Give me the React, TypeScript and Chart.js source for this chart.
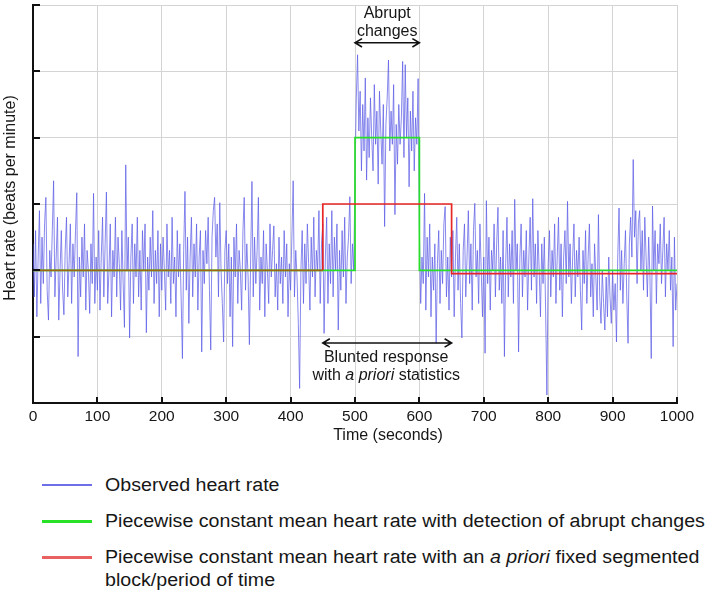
import React, { useEffect, useRef } from "react";
import { Chart, registerables } from "chart.js";

Chart.register(...registerables);

// ---------------- data ----------------
// Observed heart rate (arbitrary units on the y axis, 0..6), one sample every 2 s, 0..1000 s
const TIME_STEP_S = 2;
const OBSERVED_HR: number[] = [
  // 0-48 s
  2.4, 1.6, 2.6, 1.3, 2.2, 2.9, 1.5, 2.5, 1.8, 2.7, 3.1, 1.7, 1.25, 2.3, 1.9, 2.6, 3.35, 1.6, 2.2, 2.8, 1.25, 2.0, 2.6, 1.7, 1.33,
  // 50-98 s
  2.3, 2.8, 1.6, 2.1, 2.7, 1.5, 2.4, 1.9, 2.6, 3.17, 0.7, 2.2, 1.6, 2.5, 1.9, 2.7, 1.4, 2.3, 2.0, 1.35, 2.4, 1.8, 3.16, 1.5, 2.2,
  // 100-148 s
  1.7, 2.6, 1.4, 2.2, 2.8, 1.6, 2.4, 3.18, 1.5, 2.0, 2.7, 1.3, 2.3, 1.9, 2.8, 1.6, 2.5, 2.1, 1.4, 2.6, 1.8, 1.14, 3.59, 2.0, 2.5,
  // 150-198 s
  0.98, 2.2, 2.7, 1.5, 2.4, 1.9, 2.8, 1.6, 2.3, 1.4, 2.6, 2.0, 2.7, 1.06, 2.2, 1.7, 2.5, 1.9, 2.9, 1.5, 2.3, 1.8, 2.6, 1.3, 2.4,
  // 200-248 s
  1.7, 2.5, 2.0, 1.4, 2.7, 1.9, 2.3, 1.5, 2.8, 1.8, 2.2, 1.3, 2.6, 1.9, 2.4, 1.6, 0.67, 2.3, 3.19, 1.7, 2.5, 1.2, 2.2, 2.8, 1.6,
  // 250-298 s
  2.4, 1.9, 2.7, 1.4, 2.2, 2.6, 0.77, 2.3, 1.8, 2.6, 2.1, 2.8, 1.7, 0.8, 2.5, 2.9, 3.1, 2.2, 2.7, 1.6, 3.02, 2.0, 1.5, 0.92, 2.3,
  // 300-348 s
  2.6, 1.8, 2.4, 1.3, 2.2, 0.85, 2.5, 1.9, 2.7, 1.5, 2.3, 2.0, 1.4, 2.6, 3.1, 1.7, 2.4, 1.9, 0.88, 2.2, 3.34, 1.6, 2.5, 1.8, 2.3,
  // 350-398 s
  3.1, 1.4, 2.2, 1.8, 2.6, 1.3, 2.4, 2.0, 1.5, 2.7, 1.9, 2.3, 2.67, 1.6, 2.1, 1.4, 2.5, 1.8, 2.2, 1.5, 2.6, 1.9, 2.4, 1.3, 2.1,
  // 400-448 s
  1.7, 2.5, 3.35, 1.6, 2.3, 1.9, 1.2, 0.22, 2.0, 2.6, 1.5, 2.4, 1.8, 2.7, 2.1, 1.4, 2.5, 1.9, 2.8, 1.6, 2.3, 2.0, 2.9, 1.5, 2.4,
  // 450-498 s
  2.7, 1.05, 2.2, 2.8, 1.5, 2.4, 1.8, 2.9, 1.6, 2.5, 2.0, 2.7, 1.1, 2.3, 1.7, 2.6, 1.9, 2.8, 1.5, 2.2, 2.5, 3.11, 1.8, 2.4, 2.0,
  // 500-548 s
  3.4, 4.6, 5.25, 4.1, 4.7, 3.5, 4.5, 3.8, 4.9, 3.36, 4.3, 3.7, 4.6, 4.0, 3.5, 4.8, 3.9, 4.4, 3.3, 4.7, 4.1, 3.6, 4.5, 2.66, 4.2,
  // 550-598 s
  4.6, 5.17, 3.8, 4.4, 3.9, 4.8, 2.84, 4.2, 3.6, 4.5, 3.9, 4.3, 5.15, 3.7, 5.1, 4.0, 4.6, 3.26, 4.4, 3.8, 4.7, 3.5, 4.3, 3.9, 4.89,
  // 600-648 s
  2.6, 1.5, 2.2, 1.8, 3.16, 1.4, 2.5, 1.9, 2.7, 1.3, 2.2, 1.7, 2.4, 0.9, 2.1, 2.6, 1.5, 2.3, 1.8, 2.7, 2.96, 1.6, 2.2, 1.4, 2.5,
  // 650-698 s
  1.9, 2.6, 1.3, 2.2, 2.8, 1.7, 2.4, 1.5, 0.98, 2.3, 2.7, 1.6, 2.2, 2.9, 1.8, 2.4, 1.4, 2.6, 3.01, 1.9, 2.3, 1.5, 2.7, 2.0, 1.3,
  // 700-748 s
  2.2, 0.75, 3.05, 1.8, 2.5, 1.4, 2.3, 2.0, 2.7, 1.6, 2.4, 2.95, 1.7, 2.2, 1.5, 2.6, 0.7, 2.1, 2.8, 1.6, 2.4, 1.9, 2.6, 1.5, 3.07,
  // 750-798 s
  2.0, 2.4, 0.77, 2.2, 2.7, 1.6, 2.3, 1.9, 2.6, 1.4, 2.2, 2.8, 1.7, 3.08, 1.9, 2.4, 1.5, 2.6, 2.0, 1.3, 2.4, 1.8, 2.5, 1.4, 0.12,
  // 800-848 s
  2.1, 2.6, 1.6, 2.3, 1.9, 2.7, 1.5, 2.2, 2.8, 1.7, 2.4, 1.3, 2.2, 2.6, 1.8, 3.04, 1.9, 2.4, 1.5, 2.2, 2.7, 1.6, 2.3, 1.9, 2.5,
  // 850-898 s
  1.7, 1.1, 2.3, 1.8, 2.6, 1.5, 2.2, 2.7, 1.6, 2.1, 1.3, 2.4, 1.9, 1.4, 2.84, 1.6, 1.2, 2.0, 1.5, 1.1, 1.9, 1.3, 2.2, 1.6, 1.2,
  // 900-948 s
  2.0, 1.4, 1.8, 0.92, 2.2, 2.94, 1.7, 2.3, 1.5, 2.1, 2.6, 1.6, 0.9, 2.4, 2.8, 2.2, 3.67, 2.5, 2.9, 1.8, 2.7, 2.9, 2.0, 2.6, 1.7,
  // 950-998 s
  2.8, 2.2, 1.6, 2.5, 1.9, 0.67, 2.97, 2.0, 2.6, 1.5, 2.4, 2.1, 2.7, 1.8, 2.3, 2.8, 1.6, 2.4, 2.0, 2.6, 1.7, 2.2, 0.85, 2.5, 1.4,
  // 1000 s
  1.8,
];

// Piecewise constant mean with detection of abrupt changes
const DETECTED_X: number[] = [0, 500, 500, 600, 600, 1000];
const DETECTED_Y: number[] = [2, 2, 4, 4, 2, 2];

// Piecewise constant mean with a priori fixed segmented blocks
const FIXED_X: number[] = [0, 450, 450, 650, 650, 1000];
const FIXED_Y: number[] = [2, 2, 3, 3, 1.95, 1.95];

const X_MIN = 0;
const X_MAX = 1000;
const X_STEP = 100;
const Y_MIN = 0;
const Y_MAX = 6;
const Y_STEP = 1;

const LEGEND_LABELS = [
  "Observed heart rate",
  "Piecewise constant mean heart rate with detection of abrupt changes",
  "Piecewise constant mean heart rate with an a priori fixed segmented block/period of time",
];

// ---------------- styles ----------------
const FONT = '"Liberation Sans", Arial, Helvetica, sans-serif';
const TEXT = "#161616";
const BLUE = "rgba(92, 92, 230, 0.72)";
const GREEN = "rgb(40, 222, 40)";
const RED = "rgb(232, 38, 38)";
const OVERLAP = "rgb(158, 104, 18)";
const GRID = "#d4d4d4";

function detectedAt(x: number): number | null {
  for (let i = 0; i < DETECTED_X.length - 1; i++) {
    if (DETECTED_X[i] !== DETECTED_X[i + 1] && x >= DETECTED_X[i] && x <= DETECTED_X[i + 1]) {
      return DETECTED_Y[i];
    }
  }
  return null;
}

function drawArrow(ctx: CanvasRenderingContext2D, x1: number, x2: number, y: number) {
  const h = 6;
  ctx.save();
  ctx.strokeStyle = "#111";
  ctx.lineWidth = 1.6;
  ctx.lineJoin = "miter";
  ctx.beginPath();
  ctx.moveTo(x1, y);
  ctx.lineTo(x2, y);
  ctx.moveTo(x1 + h + 1, y - h * 0.7);
  ctx.lineTo(x1, y);
  ctx.lineTo(x1 + h + 1, y + h * 0.7);
  ctx.moveTo(x2 - h - 1, y - h * 0.7);
  ctx.lineTo(x2, y);
  ctx.lineTo(x2 - h - 1, y + h * 0.7);
  ctx.stroke();
  ctx.restore();
}

const decorPlugin = {
  id: "decor",
  afterDraw(chart: any) {
    const ctx: CanvasRenderingContext2D = chart.ctx;
    const xs = chart.scales.x;
    const ys = chart.scales.y;
    const area = chart.chartArea;

    // inward tick marks
    ctx.save();
    ctx.strokeStyle = "#111";
    ctx.lineWidth = 2;
    ctx.beginPath();
    for (let v = X_MIN; v <= X_MAX; v += X_STEP) {
      const px = Math.round(xs.getPixelForValue(v));
      ctx.moveTo(px, area.bottom);
      ctx.lineTo(px, area.bottom - 6);
    }
    for (let v = Y_MIN; v <= Y_MAX; v += Y_STEP) {
      const py = Math.round(ys.getPixelForValue(v));
      ctx.moveTo(area.left, py);
      ctx.lineTo(area.left + 7, py);
    }
    ctx.stroke();
    ctx.restore();

    // axis titles
    ctx.save();
    ctx.fillStyle = TEXT;
    ctx.font = `16px ${FONT}`;
    ctx.textAlign = "center";
    ctx.textBaseline = "middle";
    ctx.fillText("Time (seconds)", 388, 436);
    ctx.translate(11, 198);
    ctx.rotate(-Math.PI / 2);
    ctx.fillText("Heart rate (beats per minute)", 0, 0);
    ctx.restore();

    // annotation: abrupt changes
    const ax1 = xs.getPixelForValue(500);
    const ax2 = xs.getPixelForValue(600);
    const amid = (ax1 + ax2) / 2;
    drawArrow(ctx, ax1, ax2, ys.getPixelForValue(5.43));
    ctx.save();
    ctx.fillStyle = TEXT;
    ctx.font = `16px ${FONT}`;
    ctx.textAlign = "center";
    ctx.textBaseline = "middle";
    ctx.fillText("Abrupt", amid, ys.getPixelForValue(5.875));
    ctx.fillText("changes", amid, ys.getPixelForValue(5.6));
    ctx.restore();

    // annotation: blunted response
    const bx1 = xs.getPixelForValue(450);
    const bx2 = xs.getPixelForValue(650);
    const bmid = (bx1 + bx2) / 2 - 1;
    drawArrow(ctx, bx1, bx2, ys.getPixelForValue(0.905));
    ctx.save();
    ctx.fillStyle = TEXT;
    ctx.textBaseline = "middle";
    ctx.textAlign = "center";
    ctx.font = `16px ${FONT}`;
    ctx.fillText("Blunted response", bmid, ys.getPixelForValue(0.69));
    const yLine = ys.getPixelForValue(0.42);
    const parts: [string, string][] = [
      ["with ", `16px ${FONT}`],
      ["a priori", `italic 16px ${FONT}`],
      [" statistics", `16px ${FONT}`],
    ];
    let total = 0;
    const widths = parts.map(([t, f]) => {
      ctx.font = f;
      const w = ctx.measureText(t).width;
      total += w;
      return w;
    });
    let cx = bmid - total / 2;
    ctx.textAlign = "left";
    parts.forEach(([t, f], i) => {
      ctx.font = f;
      ctx.fillText(t, cx, yLine);
      cx += widths[i];
    });
    ctx.restore();
  },
};

function LegendLine(props: { color: string; top: number; width: number }) {
  return (
    <div
      style={{
        position: "absolute",
        left: 42,
        top: props.top - 1,
        width: 50,
        height: props.width,
        background: props.color,
      }}
    />
  );
}

export default function App() {
  const ref = useRef<HTMLCanvasElement>(null);

  useEffect(() => {
    document.body.style.margin = "0";
    const observed = OBSERVED_HR.map((v, i) => ({ x: i * TIME_STEP_S, y: v }));
    const detected = DETECTED_X.map((x, i) => ({ x, y: DETECTED_Y[i] }));
    const fixed = FIXED_X.map((x, i) => ({ x, y: FIXED_Y[i] }));

    const chart = new Chart(ref.current as HTMLCanvasElement, {
      type: "line",
      data: {
        datasets: [
          {
            label: LEGEND_LABELS[2],
            data: fixed,
            borderColor: RED,
            borderWidth: 1.7,
            pointRadius: 0,
            order: 1,
            segment: {
              borderColor: (c: any) => {
                const y0 = c.p0.parsed.y;
                const y1 = c.p1.parsed.y;
                const mid = (c.p0.parsed.x + c.p1.parsed.x) / 2;
                if (y0 === y1 && detectedAt(mid) === y0) return OVERLAP;
                return RED;
              },
            },
          },
          {
            label: LEGEND_LABELS[1],
            data: detected,
            borderColor: GREEN,
            borderWidth: 1.7,
            pointRadius: 0,
            order: 2,
          },
          {
            label: LEGEND_LABELS[0],
            data: observed,
            borderColor: BLUE,
            borderWidth: 1,
            pointRadius: 0,
            order: 3,
          },
        ],
      },
      options: {
        responsive: false,
        devicePixelRatio: 1,
        animation: false,
        events: [],
        layout: { padding: { top: 5, right: 31, left: 0, bottom: 0 } },
        plugins: {
          legend: { display: false },
          tooltip: { enabled: false },
          title: { display: false },
        },
        scales: {
          x: {
            type: "linear",
            min: X_MIN,
            max: X_MAX,
            ticks: {
              stepSize: X_STEP,
              color: TEXT,
              font: { family: FONT, size: 15.5 },
              padding: 4,
              maxRotation: 0,
              autoSkip: false,
              callback: (v: any) => String(v),
            },
            grid: { color: GRID, lineWidth: 1, drawTicks: false },
            border: { display: true, color: "#111", width: 2 },
            afterFit: (s: any) => {
              s.height = 47;
            },
          },
          y: {
            type: "linear",
            min: Y_MIN,
            max: Y_MAX,
            ticks: { stepSize: Y_STEP, display: false },
            grid: { color: GRID, lineWidth: 1, drawTicks: false },
            border: { display: true, color: "#111", width: 2 },
            afterFit: (s: any) => {
              s.width = 33;
            },
          },
        },
      },
      plugins: [decorPlugin],
    });
    return () => chart.destroy();
  }, []);

  const textStyle: React.CSSProperties = {
    position: "absolute",
    left: 105,
    fontFamily: FONT,
    fontSize: 18,
    lineHeight: "22px",
    color: TEXT,
    whiteSpace: "nowrap",
    transform: "scaleX(1.09)",
    transformOrigin: "0 50%",
  };

  return (
    <div style={{ position: "relative", width: 708, height: 593, background: "#fff", overflow: "hidden" }}>
      <canvas ref={ref} width={708} height={450} style={{ position: "absolute", left: 0, top: 0, width: 708, height: 450 }} />
      <LegendLine color="rgb(110, 110, 232)" top={485} width={2} />
      <LegendLine color="rgb(40, 226, 40)" top={521} width={3} />
      <LegendLine color="rgb(232, 96, 96)" top={557} width={3} />
      <div style={{ ...textStyle, top: 485 - 11 }}>{LEGEND_LABELS[0]}</div>
      <div style={{ ...textStyle, top: 521 - 11 }}>{LEGEND_LABELS[1]}</div>
      <div style={{ ...textStyle, top: 557 - 11 }}>
        Piecewise constant mean heart rate with an <i>a priori</i> fixed segmented
      </div>
      <div style={{ ...textStyle, top: 580 - 11 }}>block/period of time</div>
    </div>
  );
}
